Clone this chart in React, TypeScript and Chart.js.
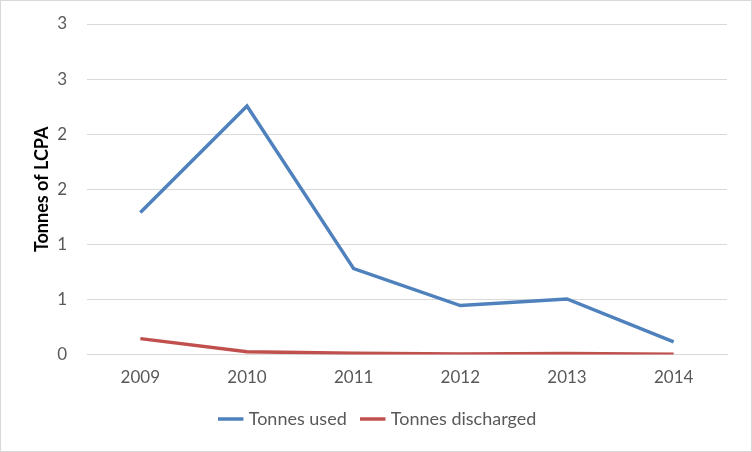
import React, { useEffect, useRef } from "react";
import { Chart, registerables } from "chart.js";

Chart.register(...registerables);

const years = ["2009", "2010", "2011", "2012", "2013", "2014"];
const tonnesUsed = [1.29, 2.255, 0.78, 0.445, 0.505, 0.115];
const tonnesDischarged = [0.145, 0.025, 0.012, 0.005, 0.01, 0.003];

export default function App() {
  const ref = useRef<HTMLCanvasElement | null>(null);
  useEffect(() => {
    document.body.style.margin = "0";
    const chart = new Chart(ref.current!, {
      type: "line",
      data: {
        labels: years,
        datasets: [
          {
            label: "Tonnes used",
            data: tonnesUsed,
            borderColor: "#4F81BD",
            backgroundColor: "#4F81BD",
            borderWidth: 3.5,
            pointRadius: 0,
            tension: 0,
          },
          {
            label: "Tonnes discharged",
            data: tonnesDischarged,
            borderColor: "#C0504D",
            backgroundColor: "#C0504D",
            borderWidth: 3.5,
            pointRadius: 0,
            tension: 0,
          },
        ],
      },
      options: {
        animation: false,
        responsive: false,
        layout: { padding: { top: 23, right: 24, bottom: 13, left: 30 } },
        scales: {
          x: {
            offset: true,
            grid: { display: false },
            border: { color: "#d9d9d9" },
            ticks: { color: "#595959", font: { family: "Lato", size: 17 }, padding: 5 },
          },
          y: {
            min: 0,
            max: 3,
            afterFit: (s: any) => {
              s.width = 56;
              s.paddingTop = 0;
            },
            ticks: {
              stepSize: 0.5,
              color: "#595959",
              font: { family: "Lato", size: 17 },
              padding: 20,
              callback: (v: any) => String(Math.round(Number(v))),
            },
            grid: { color: "#d9d9d9", drawTicks: false },
            border: { display: false },
            title: {
              display: true,
              text: "Tonnes of LCPA",
              color: "#000",
              font: { family: "Lato", size: 18, weight: "bold" },
              padding: 0,
            },
          },
        },
        plugins: {
          legend: {
            position: "bottom",
            labels: {
              usePointStyle: true,
              pointStyle: "line",
              boxWidth: 42,
              color: "#595959",
              font: { family: "Lato", size: 18 },
              padding: 17,
            },
          },
          tooltip: { enabled: false },
        },
      },
    });
    return () => chart.destroy();
  }, []);
  return (
    <div style={{ width: 750, height: 450, border: "1px solid #d9d9d9" }}>
      <canvas ref={ref} width={750} height={450} />
    </div>
  );
}
